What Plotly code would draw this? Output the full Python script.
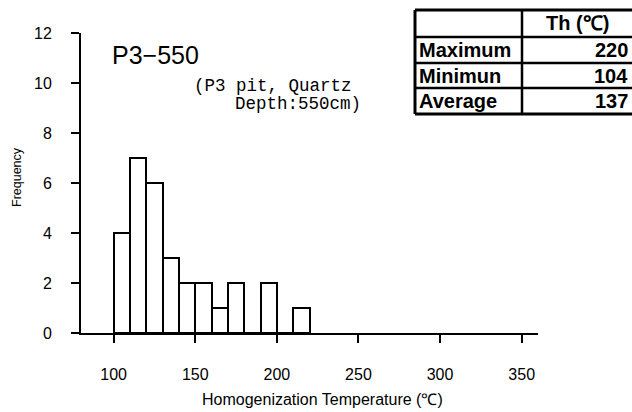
import plotly.graph_objects as go

# ---- data ----
bin_left = [100, 110, 120, 130, 140, 150, 160, 170, 180, 190, 200, 210]
counts = [4, 7, 6, 3, 2, 2, 1, 2, 0, 2, 0, 1]
bin_width = 10
x_ticks = [100, 150, 200, 250, 300, 350]
y_ticks = [0, 2, 4, 6, 8, 10, 12]
table_header = "Th (℃)"
table_labels = ["Maximum", "Minimun", "Average"]
table_values = ["220", "104", "137"]
sample_title = "P3−550"
sample_note = ["(P3 pit, Quartz", "Depth:550cm)"]

# ---- layout geometry (pixels) ----
W, H = 632, 412
L, R, T, B = 81, 94, 33, 79
PW, PH = W - L - R, H - T - B


def px(xpix):
    return (xpix - L) / PW


def py(ypix):
    return (H - B - ypix) / PH


fig = go.Figure()
fig.add_trace(go.Bar(
    x=[b + bin_width / 2 for b in bin_left],
    y=counts,
    width=bin_width,
    marker=dict(color="white", line=dict(color="black", width=2)),
    cliponaxis=False,
    showlegend=False,
    hoverinfo="skip",
))

annotations = []
shapes = []

# sample title and note
annotations.append(dict(text=sample_title, x=px(110), y=py(55), xref="paper", yref="paper",
                        xanchor="left", yanchor="middle", showarrow=False,
                        font=dict(family="Liberation Sans, Arial", size=25, color="black")))
annotations.append(dict(text=sample_note[0], x=px(192), y=py(86), xref="paper", yref="paper",
                        xanchor="left", yanchor="middle", showarrow=False,
                        font=dict(family="Liberation Mono, monospace", size=17.5, color="black")))
annotations.append(dict(text=sample_note[1], x=px(233), y=py(104), xref="paper", yref="paper",
                        xanchor="left", yanchor="middle", showarrow=False,
                        font=dict(family="Liberation Mono, monospace", size=17.5, color="black")))

# axis titles
annotations.append(dict(text="Homogenization Temperature (℃)", x=px(322), y=py(399),
                        xref="paper", yref="paper", xanchor="center", yanchor="middle",
                        showarrow=False,
                        font=dict(family="Liberation Sans, Arial", size=16, color="black")))
annotations.append(dict(text="Frequency", x=px(17), y=py(177), xref="paper", yref="paper",
                        xanchor="center", yanchor="middle", textangle=-90, showarrow=False,
                        font=dict(family="Liberation Sans, Arial", size=12.5, color="black")))

# table
tx0, tx1, tx2 = 415, 522, 640
row_y = [10, 37, 63, 88, 114]
for i, yv in enumerate(row_y):
    shapes.append(dict(type="line", xref="paper", yref="paper",
                       x0=px(tx0), x1=px(tx2), y0=py(yv), y1=py(yv),
                       line=dict(color="black", width=3 if i in (0, len(row_y) - 1) else 2.5)))
for xv in (tx0, tx1):
    shapes.append(dict(type="line", xref="paper", yref="paper",
                       x0=px(xv), x1=px(xv), y0=py(row_y[0]), y1=py(row_y[-1]),
                       line=dict(color="black", width=3 if xv == tx0 else 2.5)))

tfont = dict(family="Liberation Sans, Arial", size=20, color="black")
annotations.append(dict(text="<b>" + table_header + "</b>", x=px((tx1 + 632) / 2),
                        y=py((row_y[0] + row_y[1]) / 2),
                        xref="paper", yref="paper", xanchor="center", yanchor="middle",
                        showarrow=False, font=tfont))
for i, (lab, val) in enumerate(zip(table_labels, table_values)):
    yc = py((row_y[i + 1] + row_y[i + 2]) / 2)
    annotations.append(dict(text="<b>" + lab + "</b>", x=px(417), y=yc, xref="paper", yref="paper",
                            xanchor="left", yanchor="middle", showarrow=False, font=tfont))
    annotations.append(dict(text="<b>" + val + "</b>", x=px(630), y=yc, xref="paper", yref="paper",
                            xanchor="right", yanchor="middle", showarrow=False, font=tfont))

fig.update_layout(
    width=W, height=H,
    margin=dict(l=L, r=R, t=T, b=B, pad=0),
    paper_bgcolor="white", plot_bgcolor="white",
    bargap=0,
    hovermode=False,
    font=dict(family="Liberation Sans, Arial", size=16, color="black"),
    xaxis=dict(range=[80, 360], tickvals=x_ticks, ticks="outside", ticklen=8, tickwidth=2,
               tickcolor="black", showline=True, linecolor="black", linewidth=2,
               showgrid=False, zeroline=False, ticklabelstandoff=18,
               tickfont=dict(size=16)),
    yaxis=dict(range=[0, 12], tickvals=y_ticks, ticks="outside", ticklen=8, tickwidth=2,
               tickcolor="black", showline=True, linecolor="black", linewidth=2,
               showgrid=False, zeroline=False, ticklabelstandoff=16,
               tickfont=dict(size=16)),
    annotations=annotations,
    shapes=shapes,
)

fig.write_html(
    "out.html",
    config={"displayModeBar": False},
    post_script="document.body.style.margin='0';document.body.style.overflow='hidden';",
)
